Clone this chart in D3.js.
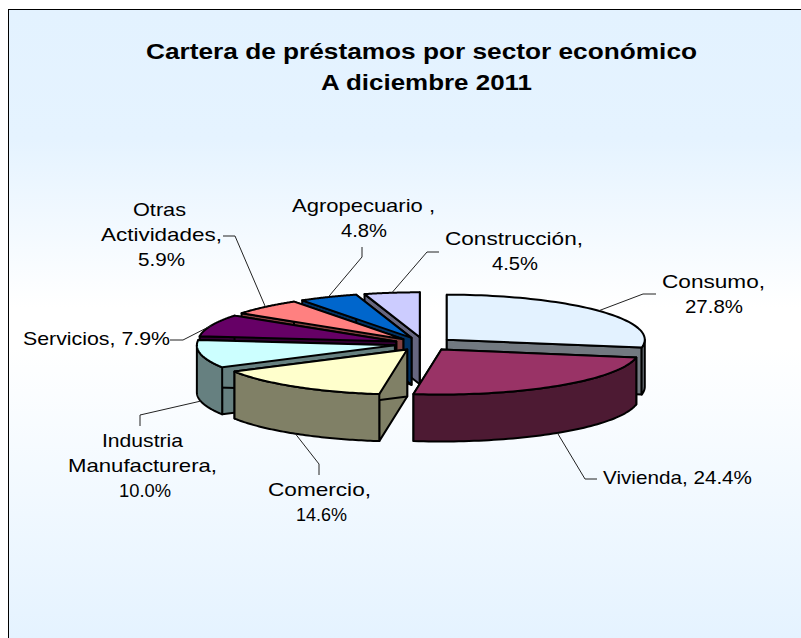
<!DOCTYPE html>
<html>
<head>
<meta charset="utf-8">
<script src="https://cdn.jsdelivr.net/npm/d3@7"></script>
<style>
  html, body { margin: 0; padding: 0; background: #fff; overflow: hidden; }
  svg { display: block; }
  text { font-family: "Liberation Sans", Arial, sans-serif; fill: #000; }
</style>
</head>
<body>
<div id="chart"></div>
<script>
// values, clockwise from 12 o'clock
const sectors = ["Consumo", "Vivienda", "Comercio", "Industria Manufacturera", "Servicios", "Otras Actividades", "Agropecuario", "Construcción"];
const shares = [27.8, 24.4, 14.6, 10.0, 7.9, 5.9, 4.8, 4.5];
const topColors = ["#e3f2ff", "#993366", "#ffffcc", "#ccffff", "#660066", "#ff8080", "#0066cc", "#ccccff"];
const titleLines = ["Cartera de préstamos por sector económico", "A diciembre 2011"];
const labelLines = [
  ["Consumo,", "27.8%"],
  ["Vivienda, 24.4%"],
  ["Comercio,", "14.6%"],
  ["Industria", "Manufacturera,", "10.0%"],
  ["Servicios, 7.9%"],
  ["Otras", "Actividades,", "5.9%"],
  ["Agropecuario ,", "4.8%"],
  ["Construcción,", "4.5%"]
];

// layout: first baseline, [left, width] of each label row, leader's elbow points
const labelPos = [
  { y: 288, rows: [[662, 103], [685, 58]], leader: [[656, 294], [643, 294]] },
  { y: 484, rows: [[603, 149]], leader: [[597, 479], [585, 479]] },
  { y: 496, rows: [[268, 103], [296, 51]], leader: [[319, 475], [319, 464]] },
  { y: 447, rows: [[102, 81], [68, 149], [119, 52]], leader: [[140, 426], [140, 415]] },
  { y: 345, rows: [[23, 147]], leader: [[170, 340], [183, 340]] },
  { y: 216, rows: [[133, 53], [101, 121], [138, 47]], leader: [[223, 236], [235, 236]] },
  { y: 212, rows: [[292, 143], [341, 46]], leader: [[362, 247], [362, 257]] },
  { y: 245, rows: [[445, 138], [492, 46]], leader: [[439, 252], [427, 252]] }
];
const titlePos = [[146, 59, 551], [321, 90, 211]];

const width = 801, height = 638;
const cx = 424, cy = 344, rx = 198, ry = 45, depth = 47, explode = 0.15;

const svg = d3.select("#chart").append("svg").attr("width", width).attr("height", height);

const grad = svg.append("defs").append("linearGradient").attr("id", "bg")
  .attr("x1", 0).attr("y1", 0).attr("x2", 0).attr("y2", 1);
[[0, "#e3f2ff"], [0.2, "#e5f3ff"], [0.46, "#ffffff"], [0.52, "#ffffff"], [1, "#e3f2ff"]].forEach(s => {
  grad.append("stop").attr("offset", s[0]).attr("stop-color", s[1]);
});

svg.append("rect")
  .attr("x", 8.5).attr("y", 9.5).attr("width", width + 10).attr("height", height + 10)
  .attr("fill", "url(#bg)").attr("stroke", "#000").attr("stroke-width", 1);

svg.append("g").selectAll("text").data(titleLines).join("text")
  .attr("x", (d, i) => titlePos[i][0]).attr("y", (d, i) => titlePos[i][1])
  .attr("textLength", (d, i) => titlePos[i][2]).attr("lengthAdjust", "spacingAndGlyphs")
  .attr("font-size", 22.5).attr("font-weight", "bold")
  .text(d => d);

const slices = d3.pie().sort(null).value(d => d)(shares);
slices.forEach((s, i) => {
  const mid = (s.startAngle + s.endAngle) / 2;
  s.apex = [cx + explode * rx * Math.sin(mid), cy - explode * ry * Math.cos(mid)];
  s.mid = mid;
  s.color = topColors[i];
  const c = d3.rgb(topColors[i]);
  s.side = d3.rgb(c.r / 2, c.g / 2, c.b / 2).formatHex();
});

const rim = (s, a) => [s.apex[0] + rx * Math.sin(a), s.apex[1] - ry * Math.cos(a)];
const down = p => [p[0], p[1] + depth];
const sampled = (a0, a1) => d3.range(0, 61).map(k => a0 + (a1 - a0) * k / 60);
const line = d3.line();
const closed = pts => line(pts) + "Z";

// back slices first, front ones paint over them
const drawOrder = [7, 6, 5, 4, 0, 3, 2, 1];
const pieG = svg.append("g")
  .attr("stroke", "#000").attr("stroke-width", 2).attr("stroke-linejoin", "round");

drawOrder.forEach(i => {
  const s = slices[i];
  const g = pieG.append("g");
  // cut faces
  [s.startAngle, s.endAngle].forEach(a => {
    const p = rim(s, a);
    g.append("path").attr("fill", s.side)
      .attr("d", closed([s.apex, p, down(p), down(s.apex)]));
  });
  // outer wall, only the part that faces the viewer
  const a0 = Math.max(s.startAngle, Math.PI / 2), a1 = Math.min(s.endAngle, Math.PI * 1.5);
  if (a1 > a0) {
    const arc = sampled(a0, a1).map(a => rim(s, a));
    g.append("path").attr("fill", s.side)
      .attr("d", closed(arc.concat(arc.map(down).reverse())));
  }
  g.append("path").attr("fill", s.color)
    .attr("d", closed([s.apex].concat(sampled(s.startAngle, s.endAngle).map(a => rim(s, a)))));
});

// leaders start on the rim, lower edge for the slices in front
const leaderG = svg.append("g").attr("fill", "none").attr("stroke", "#222").attr("stroke-width", 1);
slices.forEach((s, i) => {
  const front = s.mid > Math.PI / 2 && s.mid < Math.PI * 1.5;
  const p = rim(s, s.mid);
  leaderG.append("path").attr("d", line(labelPos[i].leader.concat([front ? down(p) : p])));
});

const labelG = svg.append("g").attr("font-size", 18.5);
labelLines.forEach((lines, i) => {
  const pos = labelPos[i];
  labelG.append("text")
    .selectAll("tspan").data(lines).join("tspan")
    .attr("x", (d, k) => pos.rows[k][0]).attr("y", (d, k) => pos.y + k * 25)
    .attr("textLength", (d, k) => pos.rows[k][1]).attr("lengthAdjust", "spacingAndGlyphs")
    .text(d => d);
});
</script>
</body>
</html>
